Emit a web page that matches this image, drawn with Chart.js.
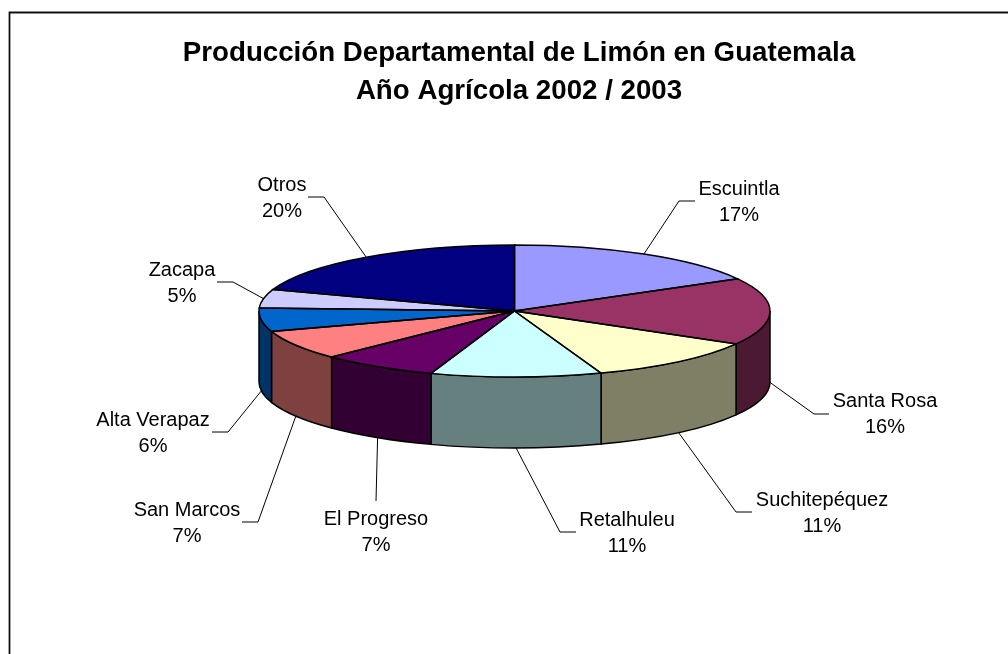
<!DOCTYPE html>
<html>

<head>
    <meta charset="utf-8">
    <title>Chart</title>
    <script src="https://cdn.jsdelivr.net/npm/chart.js@4/dist/chart.umd.min.js"></script>
    <style>
        html, body { margin: 0; padding: 0; background: #fff; }
    </style>
</head>

<body>
    <div style="width: 1008px; height: 654px;">
        <canvas id="ctx"></canvas>
    </div>

    <script>
        const titleLines = ['Producción Departamental de Limón en Guatemala', 'Año Agrícola 2002 / 2003'];
        const departments = ['Escuintla', 'Santa Rosa', 'Suchitepéquez', 'Retalhuleu', 'El Progreso', 'San Marcos', 'Alta Verapaz', 'Zacapa', 'Otros'];
        const shares = [16.9, 16.4, 11.2, 10.8, 7.4, 7.3, 5.7, 4.6, 19.7];
        const sliceColors = ['#9999FF', '#993366', '#FFFFCC', '#CCFFFF', '#660066', '#FF8080', '#0066CC', '#CCCCFF', '#000080'];

        // where each label sits: text centre, first baseline, leader elbow, leader end
        const labelSpots = [
            { x: 739, y: 195, elbow: [679, 201], end: [695, 201] },
            { x: 885, y: 407, elbow: [814, 414], end: [829, 414] },
            { x: 822, y: 506, elbow: [736, 512], end: [752, 512] },
            { x: 627, y: 526, elbow: [560, 532], end: [576, 532] },
            { x: 376, y: 525, elbow: null, end: [376, 501] },
            { x: 187, y: 516, elbow: [258, 522], end: [242, 522] },
            { x: 153, y: 426, elbow: [228, 432], end: [212, 432] },
            { x: 182, y: 276, elbow: [233, 282], end: [217, 282] },
            { x: 282, y: 191, elbow: [324, 197], end: [308, 197] }
        ];

        const RX = 255.5;
        const RY = 66;
        const DEPTH = 71;
        const CX = 514.5;
        const CY = 311;

        const darker = hex => {
            const n = parseInt(hex.slice(1), 16);
            return `rgb(${(n >> 16) >> 1}, ${((n >> 8) & 255) >> 1}, ${(n & 255) >> 1})`;
        };

        const frame = {
            id: 'frame',
            beforeDraw(chart) {
                const c = chart.ctx;
                c.save();
                c.strokeStyle = '#111';
                c.lineWidth = 1.8;
                c.beginPath();
                c.moveTo(9.5, 654);
                c.lineTo(9.5, 12.5);
                c.lineTo(1008, 12.5);
                c.stroke();
                c.restore();
            }
        };

        // chart.js only draws a flat pie, so squash it and add the walls here
        const tilt = {
            id: 'tilt',
            beforeDatasetsDraw(chart) {
                const c = chart.ctx;
                const arcs = chart.getDatasetMeta(0).data;

                c.save();
                c.lineWidth = 1.5;
                c.strokeStyle = '#000';
                arcs.forEach((arc, i) => {
                    const a0 = Math.max(arc.startAngle, 0);
                    const a1 = Math.min(arc.endAngle, Math.PI);
                    if (a1 <= a0) return;
                    c.beginPath();
                    c.ellipse(CX, CY, RX, RY, 0, a0, a1);
                    c.ellipse(CX, CY + DEPTH, RX, RY, 0, a1, a0, true);
                    c.closePath();
                    c.fillStyle = darker(sliceColors[i]);
                    c.fill();
                    c.stroke();
                });
                c.restore();

                c.save();
                c.translate(CX, CY);
                c.scale(1, RY / RX);
                c.translate(-arcs[0].x, -arcs[0].y);
            },
            afterDatasetsDraw(chart) {
                const c = chart.ctx;
                const arcs = chart.getDatasetMeta(0).data;
                c.restore();

                c.save();
                c.lineWidth = 1.5;
                c.strokeStyle = '#000';
                arcs.forEach(arc => {
                    c.beginPath();
                    c.moveTo(CX, CY);
                    c.ellipse(CX, CY, RX, RY, 0, arc.startAngle, arc.endAngle);
                    c.closePath();
                    c.stroke();
                });
                c.restore();
            },
            afterDraw(chart) {
                const c = chart.ctx;
                const arcs = chart.getDatasetMeta(0).data;

                c.save();
                c.font = '20px "Liberation Sans"';
                c.textAlign = 'center';
                c.fillStyle = '#000';
                c.strokeStyle = '#000';
                c.lineWidth = 1;
                arcs.forEach((arc, i) => {
                    const spot = labelSpots[i];
                    const mid = (arc.startAngle + arc.endAngle) / 2;
                    const front = Math.sin(mid) > -0.001;

                    c.beginPath();
                    c.moveTo(CX + RX * Math.cos(mid), CY + RY * Math.sin(mid) + (front ? DEPTH : 0));
                    if (spot.elbow) c.lineTo(spot.elbow[0], spot.elbow[1]);
                    c.lineTo(spot.end[0], spot.end[1]);
                    c.stroke();

                    c.fillText(departments[i], spot.x, spot.y);
                    c.fillText(Math.round(shares[i]) + '%', spot.x, spot.y + 26);
                });
                c.restore();
            }
        };

        new Chart(document.getElementById('ctx'), {
            type: 'pie',
            data: {
                labels: departments,
                datasets: [{
                    data: shares,
                    backgroundColor: sliceColors,
                    borderWidth: 0,
                    radius: RX
                }]
            },
            plugins: [frame, tilt],
            options: {
                responsive: true,
                maintainAspectRatio: false,
                animation: false,
                layout: { padding: { top: 34, left: 30, right: 0, bottom: 160 } },
                plugins: {
                    legend: { display: false },
                    tooltip: { enabled: false },
                    title: {
                        display: true,
                        text: titleLines,
                        color: '#000',
                        font: { family: '"Liberation Sans"', size: 27.7, weight: 'bold', lineHeight: 1.37 },
                        padding: 0
                    }
                }
            }
        });
    </script>
</body>

</html>
